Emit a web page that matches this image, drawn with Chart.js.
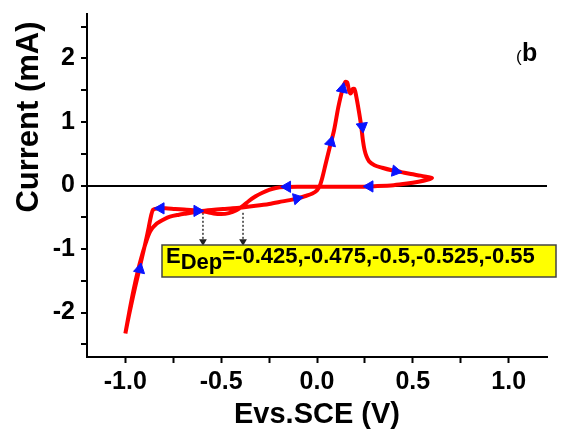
<!DOCTYPE html>
<html>
<head>
<meta charset="utf-8">
<script src="https://cdn.jsdelivr.net/npm/chart.js@4.4.1/dist/chart.umd.min.js"></script>
<style>
  body { margin: 0; background: #fff; }
  #wrap { width: 570px; height: 432px; }
</style>
</head>
<body>
<div id="wrap"><canvas id="cv_chart" width="570" height="432"></canvas></div>
<script>
// cyclic voltammogram, one closed loop (forward then reverse scan)
const loopE = [-1.0, -0.98, -0.958, -0.935, -0.913, -0.893, -0.87, -0.836, -0.80, -0.767, -0.72, -0.68, -0.61, -0.55, -0.49, -0.44, -0.39, -0.32, -0.25, -0.18, -0.11, -0.06, -0.024, 0.0, 0.015, 0.03, 0.045, 0.063, 0.089, 0.111, 0.132, 0.148, 0.158, 0.168, 0.176, 0.186, 0.195, 0.205, 0.218, 0.23, 0.24, 0.248, 0.258, 0.272, 0.30, 0.34, 0.39, 0.44, 0.49, 0.54, 0.575, 0.60,
  0.575, 0.53, 0.47, 0.40, 0.30, 0.20, 0.10, 0.0, -0.10, -0.17, -0.215, -0.25, -0.285, -0.32, -0.354, -0.39, -0.42, -0.46, -0.50, -0.54, -0.58, -0.62, -0.68, -0.74, -0.79, -0.83, -0.855, -0.866, -0.878, -0.895, -0.912, -0.935, -0.96, -0.98, -1.0];
const loopI = [-2.33, -2.0, -1.66, -1.35, -1.1, -0.9, -0.72, -0.60, -0.535, -0.49, -0.46, -0.44, -0.405, -0.385, -0.37, -0.36, -0.345, -0.32, -0.29, -0.25, -0.21, -0.165, -0.125, -0.075, 0.0, 0.15, 0.34, 0.56, 0.87, 1.23, 1.50, 1.63, 1.62, 1.48, 1.45, 1.52, 1.52, 1.40, 1.18, 0.95, 0.70, 0.56, 0.46, 0.38, 0.32, 0.28, 0.24, 0.21, 0.18, 0.155, 0.135, 0.12,
  0.09, 0.06, 0.03, 0.005, -0.01, -0.02, -0.02, -0.02, -0.02, -0.025, -0.04, -0.07, -0.115, -0.17, -0.24, -0.33, -0.39, -0.435, -0.45, -0.44, -0.415, -0.395, -0.38, -0.37, -0.36, -0.36, -0.38, -0.48, -0.66, -0.9, -1.12, -1.42, -1.75, -2.03, -2.33];

// scan direction arrows (rotation in degrees, 0 = up)
const arrowE = [-0.925, -0.815, -0.625, -0.155, -0.105, 0.072, 0.133, 0.236, 0.41, 0.275];
const arrowI = [-1.32, -0.36, -0.40, -0.02, -0.205, 0.68, 1.52, 0.93, 0.225, -0.015];
const arrowRot = [12, -90, 90, -90, 78, 14, 12, 172, 100, -90];

// dotted markers pointing to the deposition potentials
const depE = [-0.595, -0.386];
const depFrom = -0.43;
const depTo = -0.88;

const xTickVals = [-1.0, -0.75, -0.5, -0.25, 0.0, 0.25, 0.5, 0.75, 1.0];
const yTickVals = [-2.5, -2, -1.5, -1, -0.5, 0, 0.5, 1, 1.5, 2, 2.5];

const FONT = "'Liberation Sans', Arial, sans-serif";

const labelPlugin = {
    id: 'labels',
    afterDraw(chart) {
        const ctx = chart.ctx;
        ctx.save();
        // y axis title, sits above the middle of the axis in the original
        ctx.fillStyle = '#000';
        ctx.font = 'bold 31px ' + FONT;
        ctx.textAlign = 'center';
        ctx.textBaseline = 'middle';
        ctx.translate(29, 117);
        ctx.rotate(-Math.PI / 2);
        ctx.fillText('Current (mA)', 0, 0);
        ctx.setTransform(1, 0, 0, 1, 0, 0);
        ctx.textAlign = 'left';
        ctx.textBaseline = 'alphabetic';
        // E_Dep box
        ctx.fillStyle = '#ffff00';
        ctx.fillRect(162, 245, 394, 32);
        ctx.strokeStyle = '#444';
        ctx.lineWidth = 1.5;
        ctx.strokeRect(162, 245, 394, 32);
        ctx.fillStyle = '#000';
        ctx.font = 'bold 22px ' + FONT;
        let x = 166;
        ctx.fillText('E', x, 263);
        x += ctx.measureText('E').width;
        ctx.fillText('Dep', x, 269);
        x += ctx.measureText('Dep').width;
        ctx.fillText('=-0.425,-0.475,-0.5,-0.525,-0.55', x, 263);
        // panel letter
        ctx.font = '17px ' + FONT;
        ctx.fillText('(', 516, 62);
        ctx.font = 'bold 25px ' + FONT;
        ctx.fillText('b', 522, 61);
        ctx.restore();
    }
};

const datasets = [
    {
        data: arrowE.map((e, i) => ({x: e, y: arrowI[i]})),
        showLine: false,
        pointStyle: 'triangle',
        pointRadius: 6.5,
        pointRotation: arrowRot,
        backgroundColor: '#0a14ff',
        borderColor: '#0a14ff',
        pointBorderWidth: 1,
        order: 0
    },
    {
        data: loopE.map((e, i) => ({x: e, y: loopI[i]})),
        showLine: true,
        borderColor: '#ff0000',
        borderWidth: 4,
        pointRadius: 0,
        tension: 0.3,
        order: 1
    }
];
depE.forEach(e => {
    datasets.push({
        data: [{x: e, y: depFrom}, {x: e, y: depTo}],
        showLine: true,
        borderColor: '#333',
        borderWidth: 1.5,
        borderDash: [2, 2],
        pointRadius: [0, 3],
        pointStyle: 'triangle',
        pointRotation: 180,
        backgroundColor: '#222',
        pointBorderColor: '#222',
        order: 2
    });
});

const ctx = document.getElementById('cv_chart').getContext('2d');
const chart = new Chart(ctx, {
    type: 'scatter',
    data: { datasets: datasets },
    plugins: [labelPlugin],
    options: {
        responsive: false,
        animation: false,
        devicePixelRatio: 1,
        layout: { padding: { top: 14, right: 23, left: 0, bottom: 0 } },
        plugins: { legend: { display: false }, tooltip: { enabled: false } },
        scales: {
            x: {
                type: 'linear',
                min: -1.2,
                max: 1.2,
                afterBuildTicks: s => { s.ticks = xTickVals.map(v => ({value: v})); },
                afterFit: s => { s.height = 75; s.paddingLeft = 0; s.paddingRight = 0; },
                ticks: {
                    color: '#000',
                    padding: 4,
                    autoSkip: false,
                    maxRotation: 0,
                    font: { family: FONT, size: 25, weight: 'bold' },
                    callback: v => (Math.abs(v * 2 - Math.round(v * 2)) < 1e-6 ? v.toFixed(1) : '')
                },
                grid: { drawOnChartArea: false, tickLength: 6, tickColor: '#000', tickWidth: 2 },
                border: { color: '#000', width: 2 },
                title: {
                    display: true,
                    text: 'Evs.SCE (V)',
                    color: '#000',
                    padding: { top: 0, bottom: 0 },
                    font: { family: FONT, size: 29, weight: 'bold' }
                }
            },
            y: {
                min: -2.7,
                max: 2.7,
                afterBuildTicks: s => { s.ticks = yTickVals.map(v => ({value: v})); },
                afterFit: s => { s.width = 87; s.paddingTop = 0; s.paddingBottom = 0; },
                ticks: {
                    color: '#000',
                    padding: 6,
                    autoSkip: false,
                    font: { family: FONT, size: 25, weight: 'bold' },
                    callback: v => (Number.isInteger(v) ? String(v) : '')
                },
                grid: {
                    drawOnChartArea: true,
                    color: c => (c.tick && c.tick.value === 0 ? '#000' : 'rgba(0,0,0,0)'),
                    lineWidth: 2,
                    tickLength: 6,
                    tickColor: '#000',
                    tickWidth: 2
                },
                border: { color: '#000', width: 2 },
                title: { display: false }
            }
        }
    }
});
</script>
</body>
</html>
